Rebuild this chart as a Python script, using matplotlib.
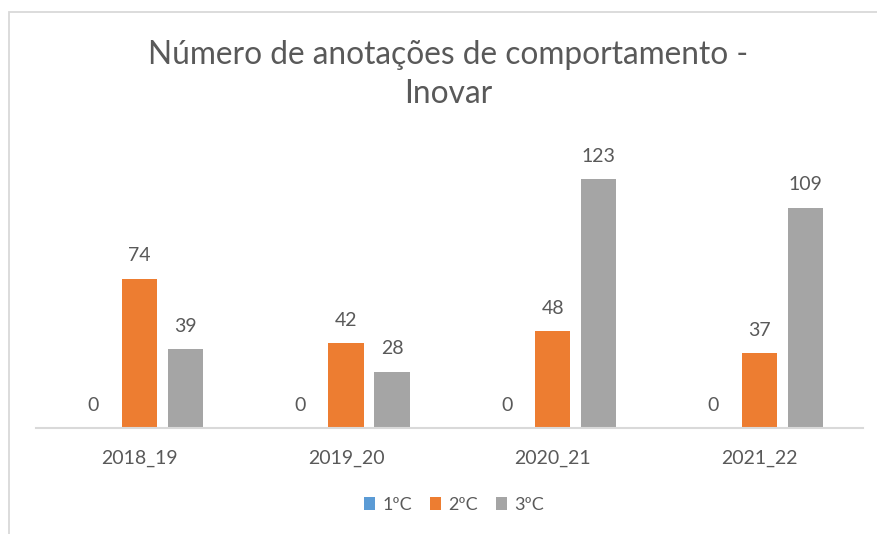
import matplotlib

matplotlib.use("Agg")
import matplotlib.pyplot as plt
import numpy as np
from matplotlib.patches import Patch, Rectangle

# data
years = ["2018_19", "2019_20", "2020_21", "2021_22"]
series_names = ["1ºC", "2ºC", "3ºC"]
c1 = [0, 0, 0, 0]
c2 = [74, 42, 48, 37]
c3 = [39, 28, 123, 109]

colors = ["#5B9BD5", "#ED7D31", "#A5A5A5"]
text_col = "#595959"
line_col = "#D9D9D9"

plt.rcParams["font.family"] = ["Lato", "DejaVu Sans"]

W, H = 878, 534
fig = plt.figure(figsize=(W / 100, H / 100), dpi=100)

# chart-area border (only left and top edges show in the crop)
fig.patches.append(Rectangle((9 / W, -0.1), 1.2, (H - 12.5) / H + 0.1,
                             transform=fig.transFigure, fill=False,
                             edgecolor=line_col, linewidth=1.3))

# plot area in pixel terms
x0, x1 = 36, 862.7
y_base, ymax, px_per_unit = 428.3, 140, 2.024
ax = fig.add_axes([x0 / W, (H - y_base) / H, (x1 - x0) / W, ymax * px_per_unit / H])

x = np.arange(len(years))
width = 0.172
step = 0.2225
for i, (vals, name) in enumerate(zip([c1, c2, c3], series_names)):
    pos = x + (i - 1) * step
    ax.bar(pos, vals, width, color=colors[i], label=name)
    for xp, v in zip(pos, vals):
        ax.annotate(str(v), (xp, v), xytext=(0, 23), textcoords="offset pixels",
                    ha="center", va="center", fontsize=14, color=text_col)

ax.set_xlim(-0.5, len(years) - 0.5)
ax.set_ylim(0, ymax)
ax.set_yticks([])
ax.set_xticks(x, years)
ax.tick_params(axis="x", length=0, pad=15.5, labelsize=14, labelcolor=text_col)
for side in ["top", "right", "left"]:
    ax.spines[side].set_visible(False)
ax.spines["bottom"].set_color(line_col)
ax.spines["bottom"].set_linewidth(1.5)

fig.text(448 / W, 1 - 74.5 / H, "Número de anotações de comportamento -\nInovar",
         ha="center", va="center", fontsize=22.8, color=text_col, linespacing=1.38)

handles = [Patch(facecolor=c, edgecolor="none") for c in colors]
fig.legend(handles, series_names, loc="center", bbox_to_anchor=(454 / W, 1 - 505 / H),
           ncol=3, frameon=False, fontsize=13, labelcolor=text_col,
           handlelength=0.6, handleheight=0.68, handletextpad=0.4, columnspacing=1.0)

fig.savefig("out.png", dpi=100)
